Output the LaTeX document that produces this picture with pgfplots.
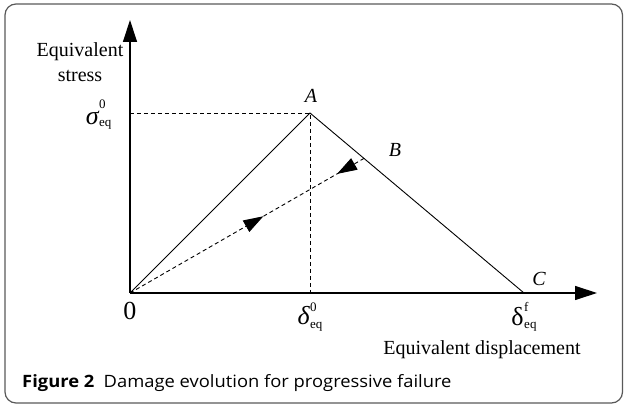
\documentclass[border=0pt]{standalone}
\usepackage{fontspec}
\setmainfont{Liberation Serif}
\newfontfamily\capfont[FakeStretch=1.08]{Open Sans}
\usepackage{pgfplots}
\pgfplotsset{compat=1.18}
\usetikzlibrary{arrows.meta,decorations.markings}
% symbol with superscript (raised #4) and subscript (raised #5)
\newcommand{\symlbl}[5]{{\fontsize{26}{30}\selectfont #1}\hspace{0.5pt}\makebox[0pt][l]{\raisebox{#4}{\fontsize{13}{13}\selectfont #2}}\raisebox{#5}{\fontsize{13}{13}\selectfont #3}}
\begin{document}
\begin{tikzpicture}[x=1pt,y=1pt]
\useasboundingbox (-130,-113) rectangle (494,293);
\draw[rounded corners=11pt, color=black!65, line width=1.2pt] (-125,289) rectangle (492.5,-110);
\node[anchor=west, inner sep=0pt] at (-108,-90) {\capfont\fontsize{17}{19}\selectfont\textbf{Figure 2}\hspace{0.55em}Damage evolution for progressive failure};
\begin{axis}[
  at={(0,0)}, anchor=origin,
  x=1pt, y=1pt,
  xmin=0, xmax=467, ymin=0, ymax=273,
  axis lines=left,
  axis line style={line width=1.2pt, -{Triangle[length=22pt,width=14pt]}},
  clip=false,
  major tick length=0pt,
  xtick={0,180,394},
  xticklabels={\raisebox{-3pt}{0}, \symlbl{\itshape δ}{0}{eq}{13pt}{-4pt}, \raisebox{-6pt}{\symlbl{δ}{f}{eq}{14pt}{-3pt}}},
  ytick={180},
  yticklabels={\symlbl{\itshape σ}{0}{eq}{16pt}{-2pt}},
  xticklabel style={anchor=north, yshift=-6pt},
  yticklabel style={anchor=east, xshift=-15pt, yshift=-2pt},
  tick label style={font=\fontsize{26}{30}\selectfont},
  xlabel={Equivalent displacement},
  xlabel style={at={(axis cs:352,-57)}, anchor=center, font=\fontsize{20}{24}\selectfont},
  ylabel={Equivalent\\stress},
  ylabel style={rotate=-90, at={(axis cs:-50,231)}, anchor=center, align=center, font=\fontsize{20}{25}\selectfont},
]
\addplot[black, line width=0.9pt] coordinates {(0,0) (180,180) (394,0)};
\addplot[black, line width=0.9pt, dash pattern=on 4pt off 3pt] coordinates {(0,180) (180,180) (180,0)};
\addplot[black, line width=0.9pt, dash pattern=on 4pt off 3pt,
  postaction={decorate, decoration={markings,
    mark=at position 0.57 with {\arrow[solid]{Triangle[length=20pt,width=13pt]}},
    mark=at position 0.885 with {\arrowreversed[solid]{Triangle[length=20pt,width=13pt]}}}}]
  coordinates {(0,0) (234,134.6)};
\node[font=\fontsize{20}{24}\selectfont\itshape] at (axis cs:181,197) {A};
\node[font=\fontsize{20}{24}\selectfont\itshape] at (axis cs:265,143) {B};
\node[font=\fontsize{20}{24}\selectfont\itshape] at (axis cs:409,14) {C};
\end{axis}
\end{tikzpicture}
\end{document}
